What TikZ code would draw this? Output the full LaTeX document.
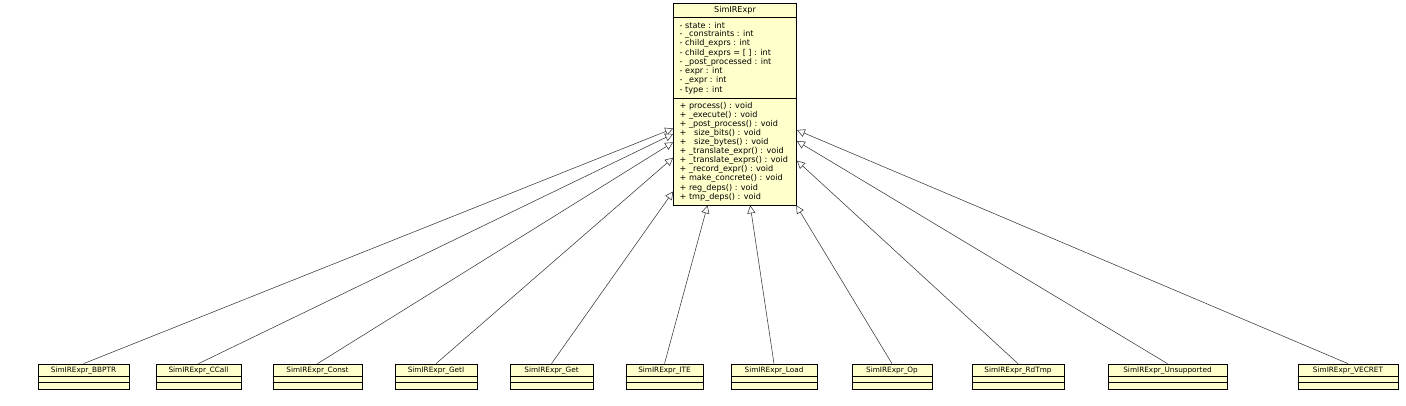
\documentclass[tikz,border=0pt]{standalone}
\usepackage{fontspec}
\setmainfont{DejaVu Sans}
\usetikzlibrary{arrows.meta}
\definecolor{umlfill}{HTML}{FFFFCC}
\definecolor{edgegray}{HTML}{383838}
\tikzset{
  umlbox/.style={draw=black, fill=umlfill, line width=0.7pt, inner sep=0pt, minimum height=25pt},
  mainbox/.style={draw=black, fill=umlfill, line width=0.7pt, inner sep=0pt, minimum width=123pt, minimum height=202pt},
  umltext/.style={font=\fontsize{8.1}{9}\selectfont, inner sep=0pt},
  childtext/.style={font=\fontsize{7.3}{8}\selectfont, inner sep=0pt},
  sepline/.style={draw=black, line width=0.6pt},
  inherit/.style={draw=edgegray, line width=0.55pt, -{Triangle[open,length=8pt,width=8pt,fill=white]}}
}
\begin{document}
\begin{tikzpicture}[x=1pt,y=-1pt]
\useasboundingbox (0,0) rectangle (1406,406);
% main class
\node[mainbox] (main) at (735,104) {};
\node[umltext] (mtitle) at (735,10.5) {SimIRExpr};
\draw[sepline] (main.west |- 0,17.5) -- (main.east |- 0,17.5);
\draw[sepline] (main.west |- 0,98) -- (main.east |- 0,98);
\node[umltext, anchor=west] (a1) at (679.5,25) {- state : int};
\node[umltext, anchor=west] (a2) at (679.5,34.3) {- \_constraints : int};
\node[umltext, anchor=west] (a3) at (679.5,43.6) {- child\_exprs : int};
\node[umltext, anchor=west] (a4) at (679.5,52.9) {- child\_exprs = [ ] : int};
\node[umltext, anchor=west] (a5) at (679.5,62.2) {- \_post\_processed : int};
\node[umltext, anchor=west] (a6) at (679.5,71.5) {- expr : int};
\node[umltext, anchor=west] (a7) at (679.5,80.8) {- \_expr : int};
\node[umltext, anchor=west] (a8) at (679.5,90.1) {- type : int};
\node[umltext, anchor=west] (m1) at (679.5,106) {+ process() : void};
\node[umltext, anchor=west] (m2) at (679.5,115.1) {+ \_execute() : void};
\node[umltext, anchor=west] (m3) at (679.5,124.2) {+ \_post\_process() : void};
\node[umltext, anchor=west] (m4) at (679.5,133.3) {+ \ \ size\_bits() : void};
\node[umltext, anchor=west] (m5) at (679.5,142.4) {+ \ \ size\_bytes() : void};
\node[umltext, anchor=west] (m6) at (679.5,151.5) {+ \_translate\_expr() : void};
\node[umltext, anchor=west] (m7) at (679.5,160.6) {+ \_translate\_exprs() : void};
\node[umltext, anchor=west] (m8) at (679.5,169.7) {+ \_record\_expr() : void};
\node[umltext, anchor=west] (m9) at (679.5,178.8) {+ make\_concrete() : void};
\node[umltext, anchor=west] (m10) at (679.5,187.9) {+ reg\_deps() : void};
\node[umltext, anchor=west] (m11) at (679.5,197) {+ tmp\_deps() : void};
% children
\foreach \n/\cx/\w/\t in {
  c1/83.5/91/SimIRExpr\_BBPTR,
  c2/198.5/85/SimIRExpr\_CCall,
  c3/317.5/89/SimIRExpr\_Const,
  c4/436/82/SimIRExpr\_GetI,
  c5/551.5/83/SimIRExpr\_Get,
  c6/664.5/77/SimIRExpr\_ITE,
  c7/774/86/SimIRExpr\_Load,
  c8/892/80/SimIRExpr\_Op,
  c9/1018/92/SimIRExpr\_RdTmp,
  c10/1167.5/119/SimIRExpr\_Unsupported,
  c11/1348/100/SimIRExpr\_VECRET}{
  \node[umlbox, minimum width=\w pt] (\n) at (\cx,376.5) {};
  \node[childtext] (\n t) at (\cx,370.2) {\t};
  \draw[sepline] (\n.west |- 0,376) -- (\n.east |- 0,376);
  \draw[sepline] (\n.west |- 0,382.5) -- (\n.east |- 0,382.5);
  \draw[inherit] (\n.north) -- (main);
}
\end{tikzpicture}
\end{document}
